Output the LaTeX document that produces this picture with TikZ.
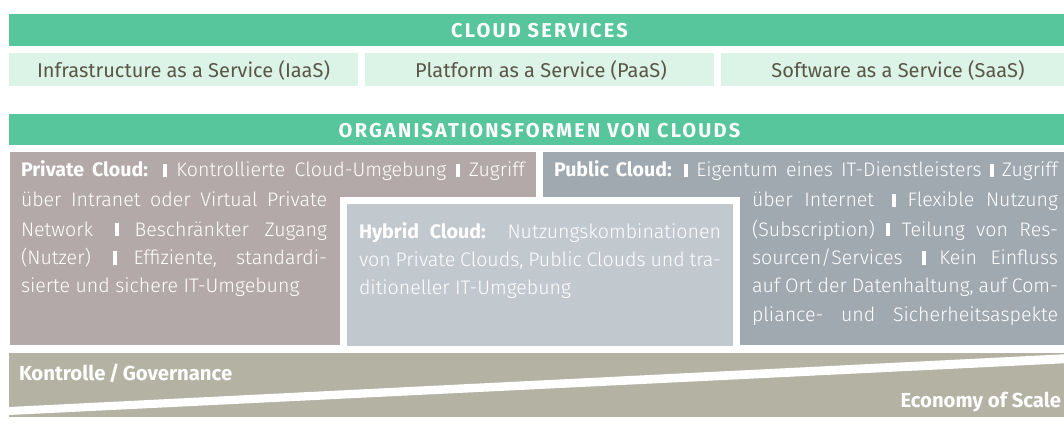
\documentclass[tikz,border=0pt]{standalone}
\usepackage{fontspec}
\setmainfont{Fira Sans}[UprightFont={* Light},BoldFont={* Bold}]
\newfontfamily\regfont{Fira Sans}
\newfontfamily\titlefont[LetterSpace=11]{Fira Sans}
\definecolor{cgreen}{HTML}{58C69D}
\definecolor{clight}{HTML}{DCF3E8}
\definecolor{ctext}{HTML}{5A5648}
\definecolor{cprivate}{HTML}{B3A9A8}
\definecolor{chybrid}{HTML}{C1C8CE}
\definecolor{cpublic}{HTML}{A0A9B0}
\definecolor{cband}{HTML}{B3B2A3}
\newcommand\vbm{\rule{4pt}{13.4pt}}
\newcommand\jl[2]{\makebox[#1][s]{#2}}
\begin{document}
\begin{tikzpicture}[x=1pt,y=-1pt,
  box/.style={draw=none,inner sep=0pt,outer sep=0pt,anchor=north west},
  body/.style={inner sep=0pt,outer sep=0pt,anchor=base west,text=white,font=\fontsize{19.6}{22}\selectfont},
  title/.style={inner sep=0pt,outer sep=0pt,anchor=base,text=white,font=\titlefont\bfseries\fontsize{20}{22}\selectfont},
  svc/.style={inner sep=0pt,outer sep=0pt,anchor=base,text=ctext,font=\regfont\fontsize{20}{22}\selectfont},
  bandtxt/.style={inner sep=0pt,outer sep=0pt,text=white,font=\regfont\bfseries\fontsize{20.3}{22}\selectfont}]
\useasboundingbox (0,0) rectangle (1064,430);
\clip (0,0) rectangle (1064,430);
% cloud services
\node[box,fill=cgreen,minimum width=1061pt,minimum height=31.5pt] (bar1) at (9,14.5) {};
\node[title] (t1) at (539.5,38) {CLOUD SERVICES};
\node[box,fill=clight,minimum width=349pt,minimum height=33pt] (iaas) at (9,53.5) {};
\node[box,fill=clight,minimum width=349pt,minimum height=33pt] (paas) at (365,53.5) {};
\node[box,fill=clight,minimum width=349pt,minimum height=33pt] (saas) at (721,53.5) {};
\node[svc] (tiaas) at (183.5,78) {Infrastructure as a Service (IaaS)};
\node[svc] (tpaas) at (541,78) {Platform as a Service (PaaS)};
\node[svc] (tsaas) at (898,78) {Software as a Service (SaaS)};
% organisationsformen
\node[box,fill=cgreen,minimum width=1061pt,minimum height=31.5pt] (bar2) at (9,114) {};
\node[title] (t2) at (539.5,137.5) {ORGANISATIONSFORMEN VON CLOUDS};
\node[box,fill=cprivate,minimum width=526pt,minimum height=192.5pt] (private) at (10,152) {};
\node[box,fill=cpublic,minimum width=526pt,minimum height=192.5pt] (public) at (543,152) {};
\node[box,fill=chybrid,draw=white,line width=7pt,minimum width=393pt,minimum height=149pt] (hybrid) at (343.5,200.5) {};
% private text
\node[body] (p1) at (21,177) {\jl{504pt}{\textbf{Private Cloud:} \vbm{} Kontrollierte Cloud-Umgebung \vbm{} Zugriff}};
\node[body] (p2) at (21,207) {\jl{306pt}{über Intranet oder Virtual Private}};
\node[body] (p3) at (21,236.5) {\jl{306pt}{Network \hspace{6pt}\vbm{} Beschränkter Zugang}};
\node[body] (p4) at (21,264.5) {\jl{306pt}{(Nutzer) \hspace{6pt}\vbm{} Effiziente, standardi-}};
\node[body] (p5) at (21,292.5) {sierte und sichere IT-Umgebung};
% public text
\node[body] (q1) at (554,177) {\jl{504pt}{\textbf{Public Cloud:} \vbm{} Eigentum eines IT-Dienstleisters \vbm{} Zugriff}};
\node[body] (q2) at (752,207) {\jl{306pt}{über Internet \hspace{6pt}\vbm{} Flexible Nutzung}};
\node[body] (q3) at (752,236.5) {\jl{306pt}{(Subscription) \vbm{} Teilung von Res-}};
\node[body] (q4) at (752,264.5) {\jl{306pt}{sourcen/Services \hspace{6pt}\vbm{} Kein Einfluss}};
\node[body] (q5) at (752,292.5) {\jl{306pt}{auf Ort der Datenhaltung, auf Com-}};
\node[body] (q6) at (752,321) {\jl{306pt}{pliance- und Sicherheitsaspekte}};
% hybrid text
\node[body] (h1) at (359,238) {\jl{362pt}{\textbf{Hybrid Cloud:} Nutzungskombinationen}};
\node[body] (h2) at (359,266.5) {\jl{362pt}{von Private Clouds, Public Clouds und tra-}};
\node[body] (h3) at (359,294.5) {ditioneller IT-Umgebung};
% band
\node[box,fill=cband,minimum width=1061pt,minimum height=64pt] (band) at (9,353) {};
\fill[white] (9,407) -- (1070,354) -- (1070,363) -- (9,415) -- cycle;
\node[bandtxt,anchor=base west] (ctrl) at (19,380) {Kontrolle\,/\,Governance};
\node[bandtxt,anchor=base east] (eco) at (1061,407) {Economy of Scale};
\end{tikzpicture}
\end{document}
